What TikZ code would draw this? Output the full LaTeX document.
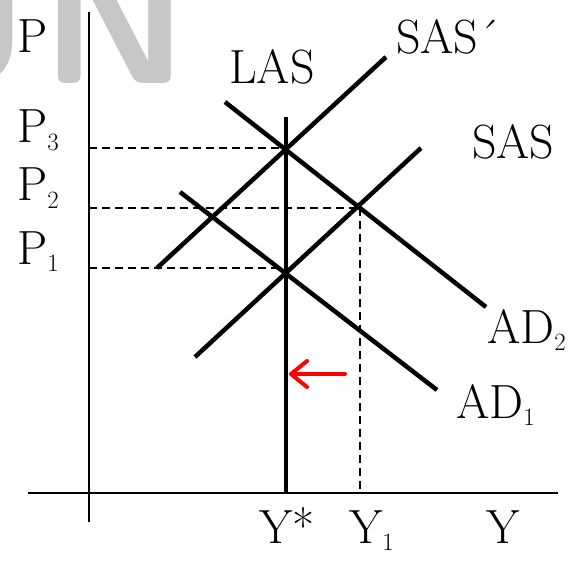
\documentclass[tikz,border=0pt]{standalone}
\usetikzlibrary{positioning,arrows.meta}
\begin{document}
\begin{tikzpicture}[
    x=1pt, y=-1pt,
    lbl/.style={anchor=base west, inner sep=0pt, font=\fontsize{48}{52}\selectfont},
    wmark/.style={anchor=base, inner sep=0pt, text=black!22, font=\fontsize{185}{185}\sffamily\bfseries},
    curve/.style={line width=4.5pt},
    axis/.style={line width=1.8pt},
    guide/.style={line width=1.8pt, dash pattern=on 8pt off 5pt},
    shiftarrow/.style={red, line width=4pt, line cap=round, -{Straight Barb[length=16pt, width=26pt, round]}}
]
\useasboundingbox (0,0) rectangle (581,564);

% watermark letters
\begin{scope}
    \clip (0,0) rectangle (581,564);
    \node[wmark, anchor=base east] (wmU) at (30,84) {U};
    \node[wmark, anchor=base west] (wmN) at (41,84) {N};
\end{scope}

% axes
\coordinate (o) at (89,493);
\coordinate (ytop) at (89,12);
\coordinate (ybot) at (89,522);
\coordinate (xl) at (28,493);
\coordinate (xr) at (558,493);
\draw[axis] (ybot) -- (ytop);
\draw[axis] (xl) -- (xr);

% equilibria
\coordinate (e1) at (286,268);
\coordinate (e2) at (360,208);
\coordinate (e3) at (286,148);
\coordinate (p1) at (89,268);
\coordinate (p2) at (89,208);
\coordinate (p3) at (89,148);
\coordinate (y1) at (360,493);
\coordinate (ystar) at (286,493);

% guide lines
\draw[guide] (p3) -- (e3);
\draw[guide] (p2) -- (e2);
\draw[guide] (p1) -- (e1);
\draw[guide] (e2) -- (y1);

% curve ends
\coordinate (las) at (286,117);
\coordinate (sasA) at (195,357);
\coordinate (sasB) at (421,148);
\coordinate (saspA) at (157,268);
\coordinate (saspB) at (386,57);
\coordinate (adA) at (180,192);
\coordinate (adB) at (437,390);
\coordinate (adtA) at (225,102);
\coordinate (adtB) at (486,307);

\draw[curve] (ystar) -- (las);
\draw[curve] (sasA) -- (sasB);
\draw[curve] (saspA) -- (saspB);
\draw[curve] (adA) -- (adB);
\draw[curve] (adtA) -- (adtB);

% shift of output back to Y*
\coordinate (arrS) at (345,374);
\coordinate (arrE) at (289,374);
\draw[shiftarrow] (arrS) -- (arrE);

% labels
\node[lbl] (lP) at (17,53) {P};
\node[lbl] (lP3) at (17,143) {P$_3$};
\node[lbl] (lP2) at (17,201) {P$_2$};
\node[lbl] (lP1) at (17,264) {P$_1$};
\node[lbl] (lLAS) at (229,84) {LAS};
\node[lbl] (lSASp) at (396,54) {SAS\'{}};
\node[lbl] (lSAS) at (472,159) {SAS};
\node[lbl] (lAD2) at (487,343) {AD$_2$};
\node[lbl] (lAD1) at (456,418) {AD$_1$};
\node[lbl] (lYs) at (259,543) {Y*};
\node[lbl] (lY1) at (349,543) {Y$_1$};
\node[lbl] (lY) at (486,543) {Y};
\end{tikzpicture}
\end{document}
